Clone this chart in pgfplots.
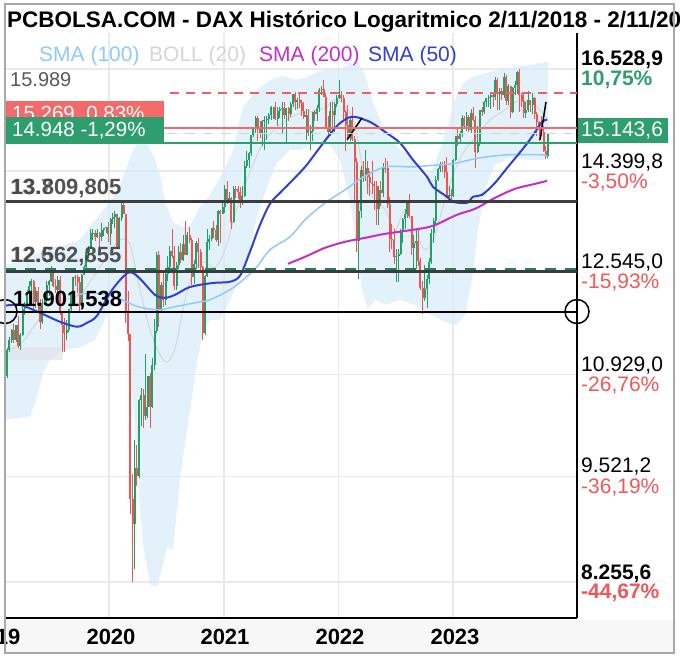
\documentclass[border=0pt]{standalone}
\usepackage{pgfplots}
\pgfplotsset{compat=1.18}
\usepackage{pgfplotstable}
\usepackage{fontspec}
\setmainfont{Liberation Sans}
\definecolor{cgreen}{RGB}{34,160,104}
\definecolor{cred}{RGB}{240,84,80}
\definecolor{band}{RGB}{212,234,250}
\definecolor{gridc}{RGB}{234,234,234}
\definecolor{smaA}{RGB}{144,202,249}
\definecolor{smaB}{RGB}{196,48,196}
\definecolor{smaC}{RGB}{48,64,208}
\definecolor{bollc}{RGB}{214,214,214}
\definecolor{lred}{RGB}{244,106,106}
\definecolor{dred}{RGB}{240,96,96}
\definecolor{lgreen}{RGB}{46,158,110}
\definecolor{lgreendash}{RGB}{190,224,204}
\definecolor{dline}{RGB}{60,60,60}
\definecolor{pctred}{RGB}{242,88,88}
\definecolor{bgray}{RGB}{168,168,168}
\definecolor{xband}{RGB}{247,247,247}
\newcommand\fs[1]{\fontsize{#1}{#1}\selectfont}

\pgfplotstableread{
n o h l c
0 11180 11367 10864 10907
1 10907 11330 10880 11300
2 11300 11500 11260 11457
3 11457 11620 11410 11603
4 11603 11700 11400 11458
5 11458 11690 11420 11686
6 11686 11823 11325 11364
7 11364 11560 11300 11526
8 11526 12000 11520 11950
9 11950 12050 11850 11999
10 11999 12260 11990 12222
11 12222 12400 12150 12315
12 12315 12435 12220 12412
13 12412 12420 11880 12060
14 12060 12300 11960 12238
15 12238 12300 11910 12011
16 12011 12100 11620 11727
17 11727 12100 11700 12045
18 12045 12150 12000 12096
19 12096 12400 12050 12340
20 12340 12420 12150 12399
21 12399 12650 12390 12568
22 12568 12580 12300 12323
23 12323 12430 12200 12260
24 12260 12480 12200 12419
25 12419 12480 11850 11872
26 11872 11890 11260 11694
27 11694 11800 11270 11563
28 11563 11770 11450 11612
29 11612 11950 11570 11939
30 11939 12200 11880 12192
31 12192 12470 12150 12469
32 12469 12500 12320 12468
33 12468 12500 12200 12380
34 12380 12470 11880 12013
35 12013 12530 11960 12512
36 12512 12680 12500 12634
37 12634 12900 12620 12895
38 12895 13000 12800 12961
39 12961 13300 12950 13229
40 13229 13300 13110 13242
41 13242 13290 13100 13164
42 13164 13310 13150 13236
43 13236 13250 12960 13167
44 13167 13425 13100 13283
45 13283 13330 13180 13319
46 13319 13340 13230 13337
47 13337 13430 13080 13219
48 13219 13500 13030 13483
49 13483 13600 13390 13526
50 13526 13640 13320 13577
51 13577 13580 12950 12982
52 12982 13520 12960 13513
53 13513 13780 13450 13744
54 13744 13795 13600 13579
55 13579 13580 11720 11890
56 11890 12230 11430 11542
57 11542 11550 9050 9232
58 9232 9550 8256 8929
59 8929 10000 8400 9633
60 9633 9930 9400 9525
61 9525 10580 9500 10565
62 10565 10730 10200 10626
63 10626 10720 10160 10336
64 10336 11230 10280 10466
65 10466 10900 10300 10904
66 10904 10950 10170 10465
67 10465 11180 10440 11074
68 11074 11780 11000 11587
69 11587 12900 11560 12848
70 12848 12910 11650 11949
71 11949 12380 11900 12331
72 12331 12550 11980 12089
73 12089 12620 12000 12528
74 12528 12830 12400 12633
75 12633 13000 12600 12920
76 12920 13310 12800 12838
77 12838 13000 12250 12313
78 12313 12720 12250 12675
79 12675 13010 12600 12901
80 12901 13060 12710 12765
81 12765 13200 12750 13033
82 13033 13460 12860 12842
83 12842 13260 12840 13202
84 13202 13350 13050 13116
85 13116 13140 12340 12469
86 12469 12770 12360 12689
87 12689 13100 12600 13051
88 13051 13150 12620 12909
89 12909 12960 12550 12646
90 12646 12650 11450 11556
91 11556 12500 11530 12480
92 12480 13300 12470 13077
93 13077 13200 12930 13137
94 13137 13330 13100 13335
95 13335 13460 13150 13298
96 13298 13380 13080 13114
97 13114 13650 13000 13631
98 13631 13650 13050 13587
99 13587 13800 13580 13719
100 13719 14130 13600 14050
101 14050 14200 13780 13788
102 13788 14000 13780 13874
103 13874 13900 13310 13433
104 13433 14100 13420 14057
105 14057 14100 13880 14050
106 14050 14100 13860 13993
107 13993 14080 13700 13786
108 13786 14100 13740 13920
109 13920 14600 13900 14502
110 14502 14800 14450 14621
111 14621 14780 14450 14749
112 14749 15120 14700 15107
113 15107 15250 15070 15234
114 15234 15500 15150 15460
115 15460 15500 15000 15280
116 15280 15400 15050 15136
117 15136 15420 14900 15400
118 15400 15500 14820 15416
119 15416 15500 15010 15438
120 15438 15570 15350 15520
121 15520 15730 15420 15693
122 15693 15700 15450 15693
123 15693 15800 15420 15448
124 15448 15700 15300 15608
125 15608 15700 15470 15650
126 15650 15810 15150 15688
127 15688 15800 15450 15540
128 15540 15670 14950 15670
129 15670 15700 15400 15544
130 15544 15800 15480 15761
131 15761 15980 15700 15977
132 15977 16030 15630 15808
133 15808 15900 15650 15852
134 15852 15990 15680 15781
135 15781 15850 15500 15609
136 15609 15800 15450 15490
137 15490 15650 15020 15532
138 15532 15650 15100 15156
139 15156 15330 14820 15206
140 15206 15600 15000 15587
141 15587 15630 15400 15543
142 15543 15750 15410 15688
143 15688 16100 15600 16054
144 16054 16150 15950 16094
145 16094 16290 15950 15917
146 15917 16000 15250 15257
147 15257 15500 15050 15170
148 15170 15800 15100 15623
149 15623 15800 15200 15532
150 15532 15800 15170 15756
151 15756 15950 15700 15885
152 15885 16285 15880 15948
153 15948 16050 15800 15883
154 15883 15950 15420 15603
155 15603 15640 14800 15318
156 15318 15750 15050 15100
157 15100 15500 15000 15425
158 15425 15700 15000 15042
159 15042 15100 13800 14567
160 14567 14650 12900 13094
161 13094 13800 12439 13628
162 13628 14500 13500 14413
163 14413 14600 14180 14306
164 14306 14820 14200 14446
165 14446 14600 13950 14283
166 14283 14400 13920 14164
167 14164 14600 13950 14143
168 14143 14200 13650 14098
169 14098 14200 13380 13675
170 13675 14100 13380 14028
171 14028 14200 13720 13982
172 13982 14550 13900 14462
173 14462 14650 14350 14460
174 14460 14600 13700 13762
175 13762 13900 12900 13126
176 13126 13400 12950 13118
177 13118 13300 12700 12813
178 12813 12950 12390 12833
179 12833 12950 12390 12865
180 12865 13300 12850 13254
181 13254 13500 13050 13484
182 13484 13680 13300 13573
183 13573 13850 13500 13795
184 13795 13950 13500 13544
185 13544 13550 12850 12971
186 12971 13200 12550 13050
187 13050 13300 12600 13088
188 13088 13300 12650 12741
189 12741 12800 12250 12284
190 12284 12400 11862 12114
191 12114 12670 12080 12273
192 12273 12500 11960 12438
193 12438 12800 12350 12731
194 12731 13300 12700 13243
195 13243 13500 13050 13460
196 13460 14300 13400 14224
197 14224 14450 14200 14432
198 14432 14570 14380 14541
199 14541 14570 14380 14529
200 14529 14600 14250 14371
201 14371 14680 13880 13893
202 13893 14100 13790 13941
203 13941 14050 13800 13924
204 13924 14630 13900 14610
205 14610 15100 14600 15087
206 15087 15270 14900 15033
207 15033 15200 14950 15150
208 15150 15520 15080 15476
209 15476 15500 15250 15308
210 15308 15600 15200 15482
211 15482 15530 15180 15210
212 15210 15660 15150 15578
213 15578 15700 15400 15428
214 15428 15500 14460 14768
215 14768 15300 14750 14957
216 14957 15630 14900 15629
217 15629 15700 15500 15598
218 15598 15830 15550 15808
219 15808 15900 15700 15882
220 15882 15950 15700 15922
221 15922 15990 15650 15961
222 15961 16000 15700 15914
223 15914 16340 15850 16275
224 16275 16330 15630 15984
225 15984 16100 15630 16051
226 16051 16100 15850 15950
227 15950 16430 15900 16358
228 16358 16390 15750 15830
229 15830 16200 15750 16148
230 16148 16150 15460 15603
231 15603 16130 15580 16106
232 16106 16250 15950 16177
233 16177 16480 15970 16470
234 16470 16529 15600 15952
235 15952 16000 15700 15832
236 15832 15980 15470 15574
237 15574 15800 15470 15632
238 15632 16050 15600 15840
239 15840 15850 15600 15740
240 15740 15990 15560 15893
241 15893 15920 15450 15557
242 15557 15600 15100 15386
243 15386 15400 15000 15229
244 15229 15500 15100 15186
245 15186 15300 14780 14798
246 14798 14900 14630 14687
247 14687 15150 14650 15143
}\ohlc

\begin{document}
\begin{tikzpicture}[x=1pt,y=1pt]
\useasboundingbox (0,0) rectangle (680,660);
\fill[white] (0,0) rectangle (680,660);
\fill[xband] (5,7) rectangle (674,40);
\begin{axis}[
  at={(5pt,42pt)}, anchor=south west,
  width=572pt, height=585pt, scale only axis,
  xmin=-0.03, xmax=260.21, ymin=7863, ymax=17354,
  ymode=log,
  axis x line*=bottom, axis y line*=right,
  axis line style={line width=2pt, black},
  xtick={47.29,99.57,151.71,203.86}, xticklabels={},
  ytick={8255.6,9521.2,10929,12545,14399.8,16528.9}, yticklabels={},
  major tick length=0pt,
  grid=major, major grid style={draw=gridc, line width=1.5pt},
  clip=false,
]
% Bollinger band
\addplot[fill=band, fill opacity=0.65, draw=none, forget plot] coordinates {
(0,12679)(6.80,12730)(13.62,12852)(20.45,12974)(27.27,13026)(34.10,13115)(40.92,13475)(46.83,13752)(51.39,14033)(55.02,14418)(58.21,14813)(61.39,14974)(65.03,14914)(68.22,14614)(70.49,14321)(73.22,13752)(76.41,13438)(80.96,13329)(84.14,13366)(88.69,13714)(93.24,13938)(96.43,14166)(100.07,14457)(103.71,14813)(108.25,15700)(114.62,16065)(120.54,16285)(126.45,16374)(131.91,16285)(136.46,16329)(142.38,16462)(147.84,16551)(152.39,16507)(156.94,16664)(160.58,16686)(163.76,16395)(166.95,15849)(170.58,15427)(175.13,15015)(179.68,14813)(184.23,14713)(187.87,14418)(191.06,14262)(194.24,14418)(197.88,14813)(201.52,15323)(204.71,15849)(207.89,16175)(211.53,16329)(216.08,16395)(220.63,16462)(225.18,16507)(229.73,16551)(234.28,16596)(238.83,16619)(243.38,16664)(247.02,16686)
(247.02,14614)(238.83,14614)(229.73,14654)(222.90,14515)(218.35,14033)(215.17,13293)(212.44,12424)(209.25,11850)(205.61,11690)(200.15,11738)(193.33,11850)(186.51,12011)(179.68,12092)(172.87,12011)(168.32,12092)(165.13,11930)(162.40,12257)(160.13,12939)(156.94,13844)(152.39,14614)(147.84,14914)(143.29,15015)(138.74,14914)(134.19,14813)(129.64,14813)(123.72,14555)(119.17,14090)(114.62,13530)(111.44,12991)(106.89,12474)(102.34,12092)(97.79,11769)(93.24,11769)(90.06,11611)(87.33,11104)(82.78,10142)(79.59,9478)(76.41,8621)(73.68,8656)(71.86,8448)(69.13,8201)(65.94,8224)(62.76,8680)(60.48,9478)(58.21,10562)(55.93,11611)(53.21,12092)(50.02,12092)(45.47,11769)(40.92,11455)(34.10,11332)(26.36,11301)(20.45,11149)(17.26,10955)(14.53,10605)(11.35,10322)(0,10280)
} -- cycle;
% gray box
\addplot[fill=black!12, fill opacity=0.55, draw=none, forget plot] coordinates {(1,11149)(26.4,11149)(26.4,11347)(1,11347)} -- cycle;
% BOLL middle
\addplot[bollc, line width=1pt, smooth, forget plot] coordinates {
(0,11301)(6.80,11378)(13.62,11690)(20.45,12011)(27.27,12092)(34.10,12174)(40.92,12508)(46.83,12852)(52.30,13115)(56.85,13026)(61.39,12257)(65.94,11611)(70.49,11225)(74.13,11119)(77.77,11378)(81.87,12092)(86.42,12627)(90.97,12730)(95.52,12627)(100.07,12939)(104.62,13567)(109.17,14128)(113.71,14614)(118.26,15015)(125.09,15323)(131.91,15532)(138.74,15595)(145.56,15679)(150.11,15849)(154.66,15743)(159.21,15323)(162.40,14515)(166.95,13938)(172.87,13658)(177.41,13293)(181.96,13658)(186.51,13293)(191.06,12939)(195.61,13204)(200.15,13844)(204.71,14418)(209.25,14813)(215.17,15117)(220.63,15427)(227.45,15637)(234.28,15849)(241.10,15743)(247.02,15427)
};
% candles: wicks
\addplot[draw=none, mark=none, forget plot, unbounded coords=discard,
  restrict expr to domain={\thisrow{c}-\thisrow{o}}{0:100000},
  error bars/.cd, y dir=both, y explicit, error mark=none,
  error bar style={draw=cgreen, line width=1pt}]
  table[x=n, y=c, y error plus expr=\thisrow{h}-\thisrow{c}, y error minus expr=\thisrow{c}-\thisrow{l}] {\ohlc};
\addplot[draw=none, mark=none, forget plot, unbounded coords=discard,
  restrict expr to domain={\thisrow{c}-\thisrow{o}}{-100000:-0.5},
  error bars/.cd, y dir=both, y explicit, error mark=none,
  error bar style={draw=cred, line width=1pt}]
  table[x=n, y=c, y error plus expr=\thisrow{h}-\thisrow{c}, y error minus expr=\thisrow{c}-\thisrow{l}] {\ohlc};
% bodies
\addplot[draw=none, mark=none, forget plot, unbounded coords=discard,
  restrict expr to domain={\thisrow{c}-\thisrow{o}}{0:100000},
  error bars/.cd, y dir=plus, y explicit, error mark=none,
  error bar style={draw=cgreen, line width=2pt}]
  table[x=n, y=o, y error plus expr=\thisrow{c}-\thisrow{o}] {\ohlc};
\addplot[draw=none, mark=none, forget plot, unbounded coords=discard,
  restrict expr to domain={\thisrow{c}-\thisrow{o}}{-100000:-0.5},
  error bars/.cd, y dir=plus, y explicit, error mark=none,
  error bar style={draw=cred, line width=2pt}]
  table[x=n, y=c, y error plus expr=\thisrow{o}-\thisrow{c}] {\ohlc};
% SMA 100
\addplot[smaA, line width=1.5pt, smooth, forget plot] coordinates {
(32.7,12174)(40.9,12207)(50.0,12141)(60.5,11979)(69.6,11930)(77.3,11979)(86.4,12043)(93.2,12092)(102.3,12257)(108.3,12424)(114.6,12644)(120.5,12938)(129.6,13168)(136.5,13475)(145.6,13789)(154.7,14033)(162.4,14262)(172.9,14476)(185.6,14476)(194.7,14508)(203.8,14539)(216.1,14654)(228.8,14714)(244.3,14714)(246.6,14674)
};
% SMA 200
\addplot[smaB, line width=2pt, smooth, forget plot] coordinates {
(128.7,12696)(136.5,12817)(145.6,12974)(154.7,13080)(163.8,13150)(172.9,13222)(185.6,13294)(194.7,13366)(205.6,13567)(213.8,13677)(222.9,13882)(232.0,14052)(241.1,14147)(246.6,14205)
};
% SMA 50
\addplot[smaC, line width=2pt, smooth, forget plot] coordinates {
(0,11995)(6.80,12011)(15.9,11881)(25.0,11738)(32.7,11659)(37.3,11722)(41.8,11833)(48.7,12257)(55.9,12542)(60.5,12475)(68.2,12174)(72.8,12125)(77.3,12174)(83.2,12290)(88.7,12340)(95.5,12374)(102.3,12391)(106.9,12492)(111.4,12904)(116.0,13384)(120.5,13770)(125.1,13976)(129.6,14166)(136.5,14476)(142.4,14813)(146.9,15076)(151.5,15323)(156.0,15469)(159.2,15490)(162.4,15448)(166.9,15365)(172.9,15178)(179.7,14952)(185.6,14614)(192.0,14281)(194.7,14090)(201.1,13901)(203.8,13807)(210.2,13789)(212.9,13901)(217.0,13938)(222.9,14166)(228.8,14476)(235.2,14813)(239.7,15076)(244.3,15385)(246.6,15427)
};
% short black trend segments
\addplot[black, line width=1.5pt, forget plot] coordinates {(155.6,15015)(162.4,15469)};
\addplot[black, line width=1.5pt, forget plot] coordinates {(243.4,15015)(246.1,15807)};
% horizontal levels
\addplot[draw=dred, line width=2pt, dash pattern=on 9pt off 7pt, forget plot] coordinates {(75,15989)(260.21,15989)};
\addplot[draw=lred, line width=2pt, forget plot] coordinates {(-0.03,15269)(260.21,15269)};
\addplot[draw=lgreendash, line width=1.5pt, dash pattern=on 10pt off 8pt, forget plot] coordinates {(-0.03,15143.6)(260.21,15143.6)};
\addplot[draw=lgreen, line width=2pt, forget plot] coordinates {(-0.03,14948)(260.21,14948)};
\addplot[draw=dline, line width=2.5pt, forget plot] coordinates {(-0.03,13809.805)(260.21,13809.805)};
\addplot[draw=dline, line width=2.5pt, forget plot] coordinates {(-0.03,12562.855)(260.21,12562.855)};
\addplot[draw=lgreen!80!black, line width=2pt, dash pattern=on 11pt off 9pt, forget plot] coordinates {(-0.03,12603)(260.21,12603)};
\addplot[draw=black, line width=2pt, forget plot] coordinates {(-0.03,11901.538)(260.21,11901.538)};
\addplot[only marks, mark=o, mark size=12pt, mark options={draw=black, line width=1.5pt}, forget plot] coordinates {(-0.03,11901.538)(260.21,11901.538)};
\end{axis}
% title
\node[anchor=base west, inner sep=0, font=\fs{22.5}\bfseries] at (7,632) {PCBOLSA.COM - DAX Histórico Logaritmico 2/11/2018 - 2/11/2023};
% legend
\node[anchor=base west, inner sep=0, font=\fs{21}, text=smaA] at (39,598) {SMA (100)};
\node[anchor=base west, inner sep=0, font=\fs{21}, text=bollc] at (149,598) {BOLL (20)};
\node[anchor=base west, inner sep=0, font=\fs{21}, text=smaB] at (259,598) {SMA (200)};
\node[anchor=base west, inner sep=0, font=\fs{21}, text=smaC] at (368,598) {SMA (50)};
% left labels
\node[anchor=base west, inner sep=0, font=\fs{20}, text=black!65] at (10,573) {15.989};
\fill[lred] (5,534) rectangle (164,559);
\node[anchor=base west, inner sep=0, font=\fs{20.5}, text=white] at (12,539) {15.269\ \ 0,83\%};
\fill[lgreen] (5,518) rectangle (164,543);
\node[anchor=base west, inner sep=0, font=\fs{20.5}, text=white] at (12,523) {14.948 -1,29\%};
\node[anchor=base west, inner sep=0, font=\fs{22}\bfseries, text=black!75, opacity=0.55] at (10,465) {13.7};
\node[anchor=base west, inner sep=0, font=\fs{22}\bfseries, text=black!75, opacity=0.9] at (11,465) {13.809,805};
\node[anchor=base west, inner sep=0, font=\fs{22}\bfseries, text=black!75, opacity=0.55] at (10,397) {12.6};
\node[anchor=base west, inner sep=0, font=\fs{22}\bfseries, text=black!75, opacity=0.9] at (11,397) {12.562,855};
\node[anchor=base west, inner sep=0, font=\fs{22}\bfseries, text=black] at (13,353) {11.901,538};
% right labels
\node[anchor=base west, inner sep=0, font=\fs{21}\bfseries] at (581,594) {16.528,9};
\node[anchor=base west, inner sep=0, font=\fs{21}\bfseries, text=lgreen] at (581,574) {10,75\%};
\fill[lgreen] (578,517) rectangle (668,542);
\node[anchor=base west, inner sep=0, font=\fs{21}, text=white] at (581,523) {15.143,6};
\node[anchor=base west, inner sep=0, font=\fs{21}] at (581,491) {14.399,8};
\node[anchor=base west, inner sep=0, font=\fs{21}, text=pctred] at (581,471) {-3,50\%};
\node[anchor=base west, inner sep=0, font=\fs{21}] at (581,391) {12.545,0};
\node[anchor=base west, inner sep=0, font=\fs{21}, text=pctred] at (581,371) {-15,93\%};
\node[anchor=base west, inner sep=0, font=\fs{21}] at (581,288) {10.929,0};
\node[anchor=base west, inner sep=0, font=\fs{21}, text=pctred] at (581,268) {-26,76\%};
\node[anchor=base west, inner sep=0, font=\fs{21}] at (581,187) {9.521,2};
\node[anchor=base west, inner sep=0, font=\fs{21}, text=pctred] at (581,166) {-36,19\%};
\node[anchor=base west, inner sep=0, font=\fs{21}\bfseries] at (581,80) {8.255,6};
\node[anchor=base west, inner sep=0, font=\fs{21}\bfseries, text=pctred] at (581,61) {-44,67\%};
% x labels
\node[anchor=base, inner sep=0, font=\fs{22}\bfseries] at (-4,15) {2019};
\node[anchor=base, inner sep=0, font=\fs{22}\bfseries] at (111,15) {2020};
\node[anchor=base, inner sep=0, font=\fs{22}\bfseries] at (225,15) {2021};
\node[anchor=base, inner sep=0, font=\fs{22}\bfseries] at (340,15) {2022};
\node[anchor=base, inner sep=0, font=\fs{22}\bfseries] at (455,15) {2023};
% border
\draw[bgray, line width=2pt] (5,7) rectangle (674,656);
\end{tikzpicture}
\end{document}
